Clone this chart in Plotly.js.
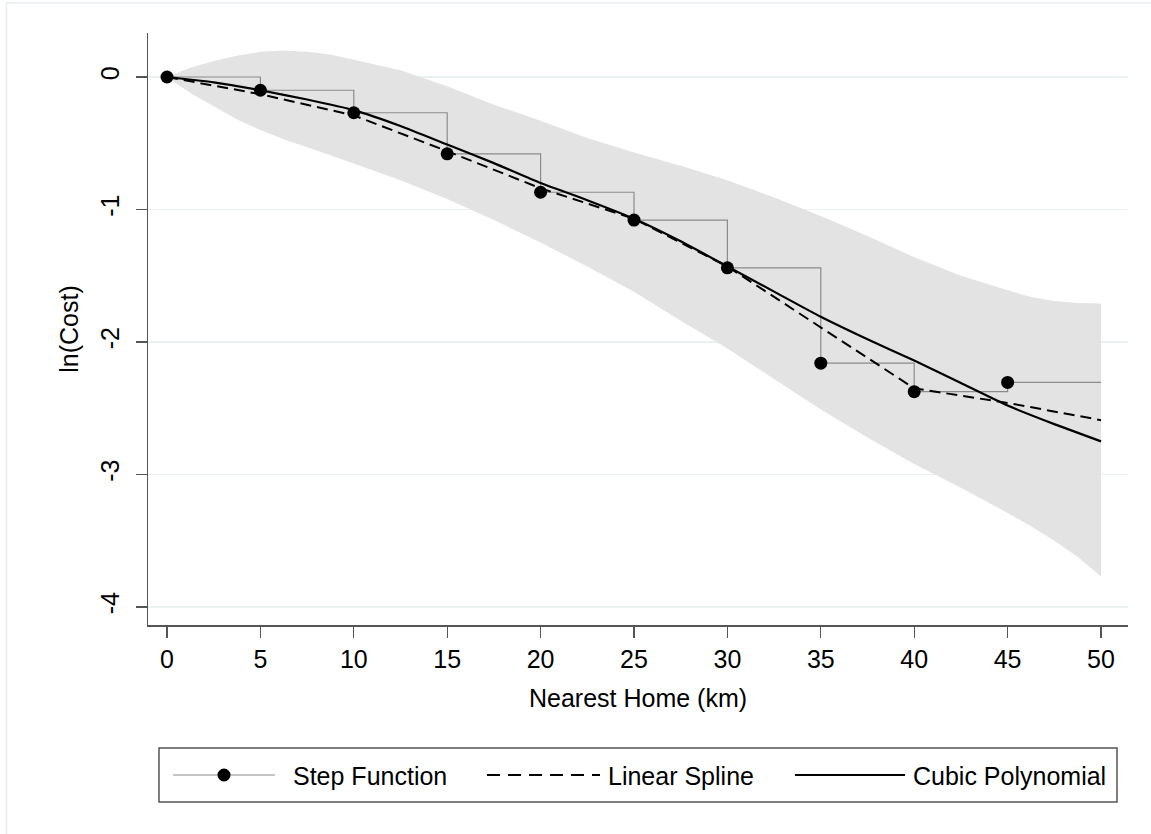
<!DOCTYPE html>
<html>
<head>
<meta charset="utf-8">
<script src="https://cdn.plot.ly/plotly-3.0.1.min.js"></script>
<style>
  html, body { margin: 0; padding: 0; background: #ffffff; }
  #chart { width: 1151px; height: 834px; }
</style>
</head>
<body>
<div id="chart"></div>
<script>
// ---- Data ----
// Step function estimates (one per 5 km bin)
var stepX = [0, 5, 10, 15, 20, 25, 30, 35, 40, 45];
var stepY = [0, -0.10, -0.27, -0.58, -0.87, -1.08, -1.44, -2.16, -2.375, -2.305];
var stepEndX = 50;   // last bin extends to 50 km

// Linear spline (knots every 5 km)
var splineX = [0, 5, 10, 15, 20, 25, 30, 35, 40, 45, 50];
var splineY = [0, -0.13, -0.29, -0.56, -0.84, -1.07, -1.43, -1.89, -2.35, -2.46, -2.59];

// Cubic polynomial fit (read at 2.5 km steps)
var cubicX = [0, 2.5, 5, 7.5, 10, 12.5, 15, 17.5, 20, 22.5, 25, 27.5, 30, 32.5, 35, 37.5, 40, 42.5, 45, 47.5, 50];
var cubicY = [0, -0.04, -0.10, -0.17, -0.25, -0.37, -0.51, -0.65, -0.80, -0.93, -1.07, -1.24, -1.43, -1.62, -1.81, -1.98, -2.14, -2.31, -2.48, -2.62, -2.75];

// Confidence band of the cubic fit
var bandX = [0, 1.25, 2.5, 3.75, 5, 6.25, 7.5, 8.75, 10, 12.5, 15, 17.5, 20, 22.5, 25, 27.5, 30, 32.5, 35, 37.5, 40, 42.5, 45, 46.25, 47.5, 48.75, 50];
var bandUpper = [0, 0.07, 0.12, 0.16, 0.19, 0.20, 0.19, 0.17, 0.13, 0.05, -0.07, -0.21, -0.33, -0.46, -0.57, -0.67, -0.78, -0.91, -1.05, -1.20, -1.36, -1.50, -1.61, -1.66, -1.69, -1.705, -1.71];
var bandLower = [0, -0.12, -0.22, -0.32, -0.40, -0.47, -0.53, -0.59, -0.65, -0.78, -0.92, -1.08, -1.25, -1.43, -1.62, -1.84, -2.05, -2.28, -2.51, -2.72, -2.92, -3.10, -3.29, -3.39, -3.50, -3.62, -3.77];

// Axis ticks
var xTicks = [0, 5, 10, 15, 20, 25, 30, 35, 40, 45, 50];
var yTicks = [0, -1, -2, -3, -4];

var seriesNames = ["Step Function", "Linear Spline", "Cubic Polynomial"];

// ---- Layout geometry ----
var W = 1151, H = 834;
var plotL = 148, plotR = 1128, plotT = 33, plotB = 625;
function px(x) { return (x - plotL) / (plotR - plotL); }
function py(y) { return (plotB - y) / (plotB - plotT); }

var FONT = "Liberation Sans, Arial, Helvetica, sans-serif";
var FS = 25;

// ---- Traces ----
var bandTrace = {
  x: bandX.concat(bandX.slice().reverse()),
  y: bandUpper.concat(bandLower.slice().reverse()),
  type: "scatter", mode: "lines",
  fill: "toself", fillcolor: "#e3e3e3",
  line: { width: 0, color: "rgba(0,0,0,0)" },
  hoverinfo: "skip", showlegend: false, name: "CI"
};

var stepLine = {
  x: stepX.concat([stepEndX]),
  y: stepY.concat([stepY[stepY.length - 1]]),
  type: "scatter", mode: "lines",
  line: { shape: "hv", color: "#8c8c8c", width: 1.2 },
  showlegend: false, name: seriesNames[0]
};

var splineTrace = {
  x: splineX, y: splineY,
  type: "scatter", mode: "lines",
  line: { color: "#000000", width: 2, dash: "11px,6px" },
  showlegend: false, name: seriesNames[1]
};

var cubicTrace = {
  x: cubicX, y: cubicY,
  type: "scatter", mode: "lines",
  line: { color: "#000000", width: 2.2, shape: "spline", smoothing: 0.5 },
  showlegend: false, name: seriesNames[2]
};

var stepMarkers = {
  x: stepX, y: stepY,
  type: "scatter", mode: "markers",
  marker: { color: "#000000", size: 13, symbol: "circle" },
  showlegend: false, name: seriesNames[0]
};

// ---- Legend drawn manually (Stata style) ----
var legY = 775;
var shapes = [
  // faint outer graph-region border
  { type: "rect", xref: "paper", yref: "paper",
    x0: px(6.5), x1: px(1170), y0: py(850), y1: py(3),
    line: { color: "#e6eef0", width: 1.5 }, layer: "below" },
  // legend box
  { type: "rect", xref: "paper", yref: "paper",
    x0: px(159), x1: px(1117), y0: py(802), y1: py(748),
    line: { color: "#555555", width: 1.5 }, fillcolor: "rgba(0,0,0,0)" },
  // step symbol
  { type: "line", xref: "paper", yref: "paper",
    x0: px(173), x1: px(275), y0: py(legY), y1: py(legY),
    line: { color: "#8c8c8c", width: 1.2 } },
  { type: "circle", xref: "paper", yref: "paper",
    x0: px(217.5), x1: px(230.5), y0: py(legY + 6.5), y1: py(legY - 6.5),
    line: { color: "#000000", width: 0 }, fillcolor: "#000000" },
  // dashed symbol
  { type: "line", xref: "paper", yref: "paper",
    x0: px(487), x1: px(600), y0: py(legY), y1: py(legY),
    line: { color: "#000000", width: 2, dash: "13px,8px" } },
  // solid symbol
  { type: "line", xref: "paper", yref: "paper",
    x0: px(795), x1: px(905), y0: py(legY), y1: py(legY),
    line: { color: "#000000", width: 2.2 } }
];

function legText(t, x) {
  return { text: t, x: px(x), y: py(legY + 1), xref: "paper", yref: "paper",
    xanchor: "left", yanchor: "middle", showarrow: false,
    font: { family: FONT, size: FS, color: "#000000" } };
}
var annotations = [
  legText(seriesNames[0], 291),
  legText(seriesNames[1], 606),
  legText(seriesNames[2], 911)
];

var xr0 = -1.017, xr1 = 51.445;
var yr0 = -4.136, yr1 = 0.332;

var layout = {
  width: W, height: H,
  margin: { l: plotL, r: W - plotR, t: plotT, b: H - plotB, pad: 0 },
  paper_bgcolor: "#ffffff", plot_bgcolor: "#ffffff",
  showlegend: false,
  font: { family: FONT, size: FS, color: "#000000" },
  xaxis: {
    range: [xr0, xr1], tickvals: xTicks, ticktext: xTicks.map(String),
    showgrid: false, zeroline: false,
    showline: true, linecolor: "#555555", linewidth: 1.5,
    ticks: "outside", ticklen: 11, tickwidth: 1.2, tickcolor: "#555555",
    tickfont: { family: FONT, size: FS, color: "#000000" },
    title: { text: "Nearest Home (km)", font: { family: FONT, size: FS, color: "#000000" }, standoff: 18 }
  },
  yaxis: {
    range: [yr0, yr1], tickvals: yTicks, ticktext: yTicks.map(String),
    showgrid: true, gridcolor: "#e9f1f3", gridwidth: 1.5,
    zeroline: false,
    showline: true, linecolor: "#555555", linewidth: 1.5,
    ticks: "outside", ticklen: 11, tickwidth: 1.2, tickcolor: "#555555",
    tickangle: -90, ticklabelstandoff: 7,
    tickfont: { family: FONT, size: FS, color: "#000000" },
    title: { text: "ln(Cost)", font: { family: FONT, size: FS, color: "#000000" }, standoff: 10 }
  },
  shapes: shapes,
  annotations: annotations
};

Plotly.newPlot("chart", [bandTrace, stepLine, splineTrace, cubicTrace, stepMarkers], layout,
  { displayModeBar: false, staticPlot: true });
</script>
</body>
</html>
